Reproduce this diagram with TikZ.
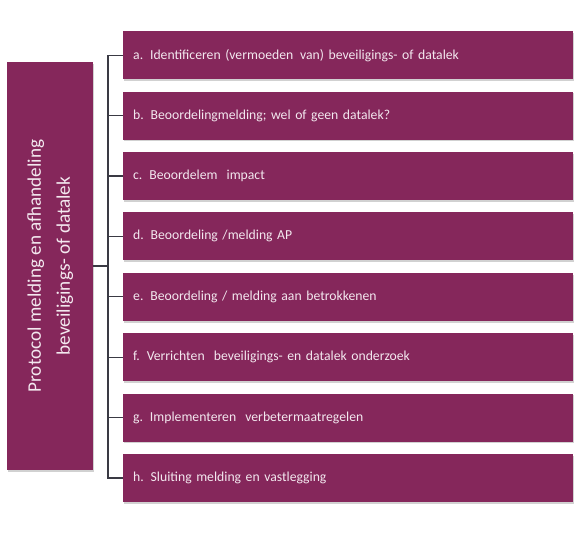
\documentclass[tikz,border=0pt]{standalone}
\usepackage{fontspec}
\setmainfont{Carlito}
\usetikzlibrary{shadows}
\definecolor{boxfill}{HTML}{85275B}
\definecolor{boxtext}{HTML}{F3E8EF}
\definecolor{conn}{HTML}{3A3A44}
\tikzset{
  pbox/.style={fill=boxfill, draw=none, text=boxtext,
    drop shadow={shadow xshift=1.2pt, shadow yshift=-1.8pt, fill=black!40, opacity=0.45}},
  itembox/.style={pbox, minimum width=450pt, minimum height=48pt, anchor=north west,
    text width=430pt, align=left, inner xsep=10pt, font=\fontsize{13.7}{16}\selectfont},
  connline/.style={draw=conn, line width=1.3pt}
}
\begin{document}
\begin{tikzpicture}[x=1pt,y=-1pt]
\useasboundingbox (0,0) rectangle (578,534);
\node[pbox, minimum width=86pt, minimum height=408pt, inner sep=0pt] (L) at (49.5,266)
  {\rotatebox{90}{\fontsize{19.2}{29}\selectfont\begin{tabular}{@{}c@{}}Protocol melding en afhandeling\\ beveiligings- of datalek\end{tabular}}};
\node[itembox] (a) at (123,31)    {a. Identificeren (vermoeden\ \,van) beveiligings- of datalek};
\node[itembox] (b) at (123,91.4)  {b. Beoordelingmelding; wel of geen datalek?};
\node[itembox] (c) at (123,151.8) {c. Beoordelem\ \ impact};
\node[itembox] (d) at (123,212.2) {d. Beoordeling /melding AP};
\node[itembox] (e) at (123,272.6) {e. Beoordeling / melding aan betrokkenen};
\node[itembox] (f) at (123,333)   {f. Verrichten\ \ beveiligings- en datalek onderzoek};
\node[itembox] (g) at (123,393.4) {g. Implementeren\ \ verbetermaatregelen};
\node[itembox] (h) at (123,453.8) {h. Sluiting melding en vastlegging};
\coordinate (J) at (108,266);
\draw[connline] (L.east) -- (J);
\foreach \n in {a,b,c,d,e,f,g,h} \draw[connline] (J) |- (\n.west);
\end{tikzpicture}
\end{document}
